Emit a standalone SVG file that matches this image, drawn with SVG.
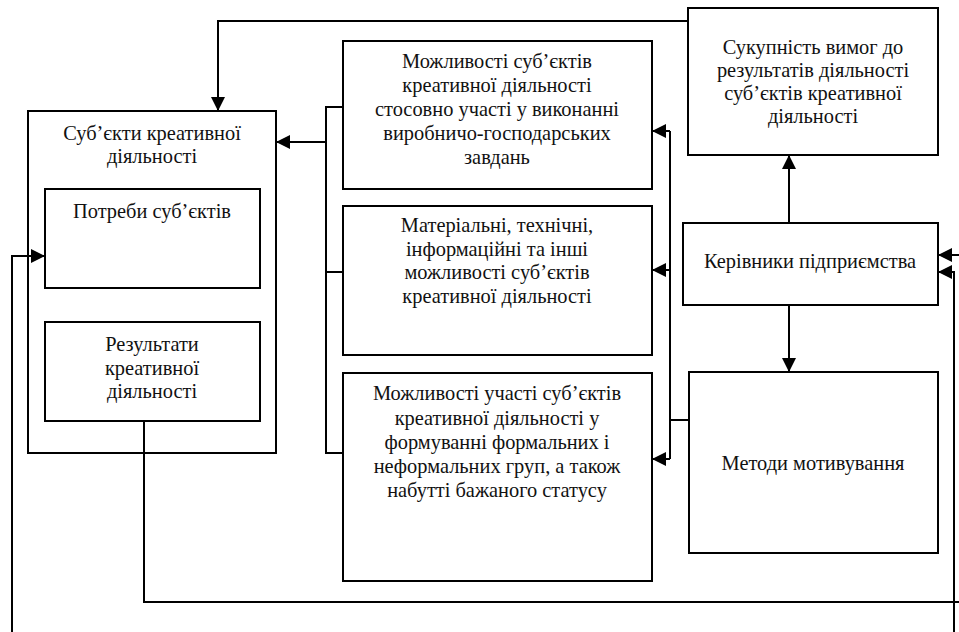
<svg xmlns="http://www.w3.org/2000/svg" width="959" height="632" viewBox="0 0 959 632">
<style>
rect{fill:#fff;stroke:#000;stroke-width:2}
text{font-family:"Liberation Serif","Times New Roman",serif;font-size:20.4px;fill:#111;text-anchor:middle}
.c path{fill:none;stroke:#000;stroke-width:2}
</style>
<defs>
<marker id="ah" markerUnits="userSpaceOnUse" markerWidth="14" markerHeight="14" viewBox="0 0 14 14" refX="14" refY="7" orient="auto">
<path d="M0,0 L14,7 L0,14 Z" fill="#000"/>
</marker>
</defs>
<rect x="0" y="0" width="959" height="632" style="stroke:none"/>
<g id="subjects">
<rect x="28" y="111" width="248" height="342"/>
<text x="152" y="140">Суб’єкти креативної</text>
<text x="152" y="163">діяльності</text>
</g>
<g id="needs">
<rect x="45" y="189" width="215" height="99"/>
<text x="152" y="218">Потреби суб’єктів</text>
</g>
<g id="results">
<rect x="45" y="322" width="215" height="99"/>
<text x="152" y="351">Результати</text>
<text x="152" y="375">креативної</text>
<text x="152" y="398">діяльності</text>
</g>
<g id="opp1">
<rect x="343" y="41" width="309" height="148"/>
<text x="497" y="68">Можливості суб’єктів</text>
<text x="497" y="92">креативної діяльності</text>
<text x="497" y="116">стосовно участі у виконанні</text>
<text x="497" y="140">виробничо-господарських</text>
<text x="497" y="164">завдань</text>
</g>
<g id="opp2">
<rect x="343" y="206" width="309" height="149"/>
<text x="497" y="232">Матеріальні, технічні,</text>
<text x="497" y="256">інформаційні та інші</text>
<text x="497" y="279">можливості суб’єктів</text>
<text x="497" y="303">креативної діяльності</text>
</g>
<g id="opp3">
<rect x="343" y="373" width="309" height="208"/>
<text x="497" y="400">Можливості участі  суб’єктів</text>
<text x="497" y="425">креативної діяльності у</text>
<text x="497" y="449">формуванні формальних і</text>
<text x="497" y="473">неформальних груп, а також</text>
<text x="497" y="497">набутті бажаного статусу</text>
</g>
<g id="requirements">
<rect x="688" y="8" width="250" height="147"/>
<text x="813" y="54">Сукупність вимог до</text>
<text x="813" y="77">результатів діяльності</text>
<text x="813" y="100">суб’єктів креативної</text>
<text x="813" y="123">діяльності</text>
</g>
<g id="managers">
<rect x="683" y="223" width="255" height="82"/>
<text x="810" y="268">Керівники підприємства</text>
</g>
<g id="methods">
<rect x="689" y="372" width="249" height="181"/>
<text x="813" y="470">Методи мотивування</text>
</g>
<g class="c" id="connectors">
<path d="M688,21 H218 V111" marker-end="url(#ah)"/>
<path d="M343,107 H326 V453 H343 M343,272 H326"/>
<path d="M326,142 H276" marker-end="url(#ah)"/>
<path d="M689,420 H670 M670,131 V459"/>
<path d="M670,131 H652" marker-end="url(#ah)"/>
<path d="M670,270 H652" marker-end="url(#ah)"/>
<path d="M670,459 H652" marker-end="url(#ah)"/>
<path d="M789,223 V155" marker-end="url(#ah)"/>
<path d="M789,305 V372" marker-end="url(#ah)"/>
<path d="M962,255 H938" marker-end="url(#ah)"/>
<path d="M954,640 V272 H938" marker-end="url(#ah)"/>
<path d="M144,421 V602 H962"/>
<path d="M12,640 V256 H45" marker-end="url(#ah)"/>
</g>
</svg>
